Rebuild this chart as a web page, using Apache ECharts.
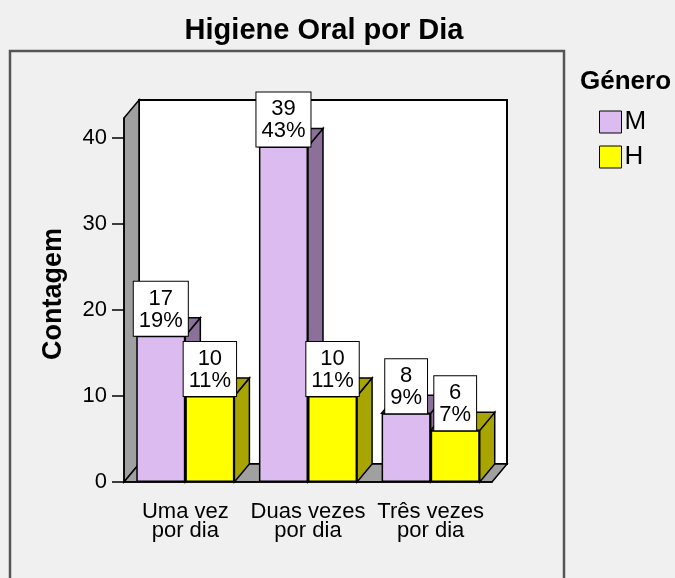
<!DOCTYPE html>
<html>
<head>
<meta charset="utf-8">
<title>Higiene Oral por Dia</title>
<script src="https://cdn.jsdelivr.net/npm/echarts@6/dist/echarts.min.js"></script>
</head>
<body style="margin:0;background:#f0f0f0">
<div id="main" style="width:675px;height:578px;"></div>
<script type="text/javascript">
// dados
var categorias = ['Uma vez\npor dia', 'Duas vezes\npor dia', 'Três vezes\npor dia'];
var generos = ['M', 'H'];
var contagemM = [17, 39, 8];
var contagemH = [10, 10, 6];
var yTicks = [0, 10, 20, 30, 40];
var yMax = 42.3;

var total = contagemM.concat(contagemH).reduce(function (a, b) { return a + b; }, 0);

var corFrente = ['#dcbcf0', '#ffff00'];
var corLado = ['#8b7199', '#a8a400'];
var DX = 15, DY = -18;
var fonte = '"Liberation Sans", Arial, sans-serif';

// faces laterais e de cima (efeito 3D)
function profundidade(idx) {
    return function (params, api) {
        var cat = api.value(0), val = api.value(1);
        var w = api.size([1, 0])[0] * 0.4;
        var c = api.coord([cat, val]);
        var base = api.coord([cat, 0]);
        var x0 = idx === 0 ? c[0] - w : c[0];
        var x1 = x0 + w;
        var yt = c[1], yb = base[1];
        var st = { fill: corLado[idx], stroke: '#000', lineWidth: 1.5 };
        return {
            type: 'group',
            children: [
                { type: 'polygon', shape: { points: [[x1, yt], [x1 + DX, yt + DY], [x1 + DX, yb + DY], [x1, yb]] }, style: st },
                { type: 'polygon', shape: { points: [[x0, yt], [x0 + DX, yt + DY], [x1 + DX, yt + DY], [x1, yt]] }, style: st }
            ]
        };
    };
}

// paredes do fundo
function paredes(params, api) {
    var cs = params.coordSys;
    var x = cs.x, y = cs.y, w = cs.width, h = cs.height;
    var cinza = { fill: '#a0a0a0', stroke: '#000', lineWidth: 1.5 };
    return {
        type: 'group',
        children: [
            { type: 'rect', shape: { x: x + DX, y: y + DY, width: w, height: h }, style: { fill: '#fff', stroke: '#000', lineWidth: 2 } },
            { type: 'polygon', shape: { points: [[x, y], [x + DX, y + DY], [x + DX, y + h + DY], [x, y + h]] }, style: cinza },
            { type: 'polygon', shape: { points: [[x, y + h], [x + DX, y + h + DY], [x + w + DX, y + h + DY], [x + w, y + h]] }, style: cinza }
        ]
    };
}

var rotulo = {
    show: true,
    position: 'top',
    distance: 0,
    formatter: function (p) {
        return p.value + '\n' + Math.round(p.value / total * 100) + '%';
    },
    backgroundColor: '#fff',
    borderColor: '#000',
    borderWidth: 1,
    padding: [6, 5, 4, 5],
    fontSize: 22,
    lineHeight: 22,
    color: '#000',
    fontFamily: fonte
};

var myChart = echarts.init(document.getElementById('main'));
var option = {
    backgroundColor: '#f0f0f0',
    animation: false,
    title: [
        { text: 'Higiene Oral por Dia', left: 324, textAlign: 'center', top: 16, padding: 0,
          textStyle: { fontSize: 29, fontWeight: 'bold', color: '#000', fontFamily: fonte } },
        { text: 'Género', left: 580, top: 69, padding: 0,
          textStyle: { fontSize: 26, fontWeight: 'bold', color: '#000', fontFamily: fonte } }
    ],
    legend: {
        data: generos,
        orient: 'vertical',
        left: 599,
        top: 109,
        padding: 0,
        icon: 'rect',
        itemWidth: 22,
        itemHeight: 22,
        itemGap: 9,
        itemStyle: { borderColor: '#000', borderWidth: 1 },
        textStyle: { fontSize: 26, color: '#000', fontFamily: fonte, padding: [0, 0, 0, -2] }
    },
    graphic: [
        { type: 'rect', silent: true, z: -10, shape: { x: 10, y: 51, width: 554, height: 560 },
          style: { fill: 'none', stroke: '#555', lineWidth: 2.5 } }
    ],
    grid: { left: 124, top: 118, width: 368, height: 364 },
    xAxis: {
        type: 'category',
        data: categorias,
        z: 10,
        axisLine: { lineStyle: { color: '#000', width: 1.5 } },
        axisTick: { alignWithLabel: true, length: 12, lineStyle: { color: '#000', width: 1.5 } },
        axisLabel: { interval: 0, fontSize: 22, lineHeight: 19, color: '#000', margin: 20, fontFamily: fonte }
    },
    yAxis: {
        type: 'value',
        min: 0,
        max: yMax,
        interval: 10,
        z: 10,
        name: 'Contagem',
        nameLocation: 'middle',
        nameGap: 57,
        nameRotate: 90,
        nameTextStyle: { fontSize: 27, fontWeight: 'bold', color: '#000', fontFamily: fonte, padding: [0, 0, 0, 12] },
        splitLine: { show: false },
        axisLine: { show: true, lineStyle: { color: '#000', width: 1.5 } },
        axisTick: { show: true, customValues: yTicks, length: 12, lineStyle: { color: '#000', width: 1.5 } },
        axisLabel: { customValues: yTicks, fontSize: 22, color: '#000', margin: 17, fontFamily: fonte }
    },
    series: [
        { type: 'custom', name: 'paredes', silent: true, z: 1, renderItem: paredes, data: [[0, 0]] },
        { type: 'custom', name: 'ladoM', silent: true, z: 2, renderItem: profundidade(0),
          data: contagemM.map(function (v, i) { return [i, v]; }) },
        { type: 'custom', name: 'ladoH', silent: true, z: 2, renderItem: profundidade(1),
          data: contagemH.map(function (v, i) { return [i, v]; }) },
        { type: 'bar', name: 'M', data: contagemM, z: 3, barGap: '0%', barCategoryGap: '20%',
          itemStyle: { color: corFrente[0], borderColor: '#000', borderWidth: 1.5 }, label: rotulo },
        { type: 'bar', name: 'H', data: contagemH, z: 3, barGap: '0%', barCategoryGap: '20%',
          itemStyle: { color: corFrente[1], borderColor: '#000', borderWidth: 1.5 }, label: rotulo }
    ]
};
myChart.setOption(option);
</script>
</body>
</html>
